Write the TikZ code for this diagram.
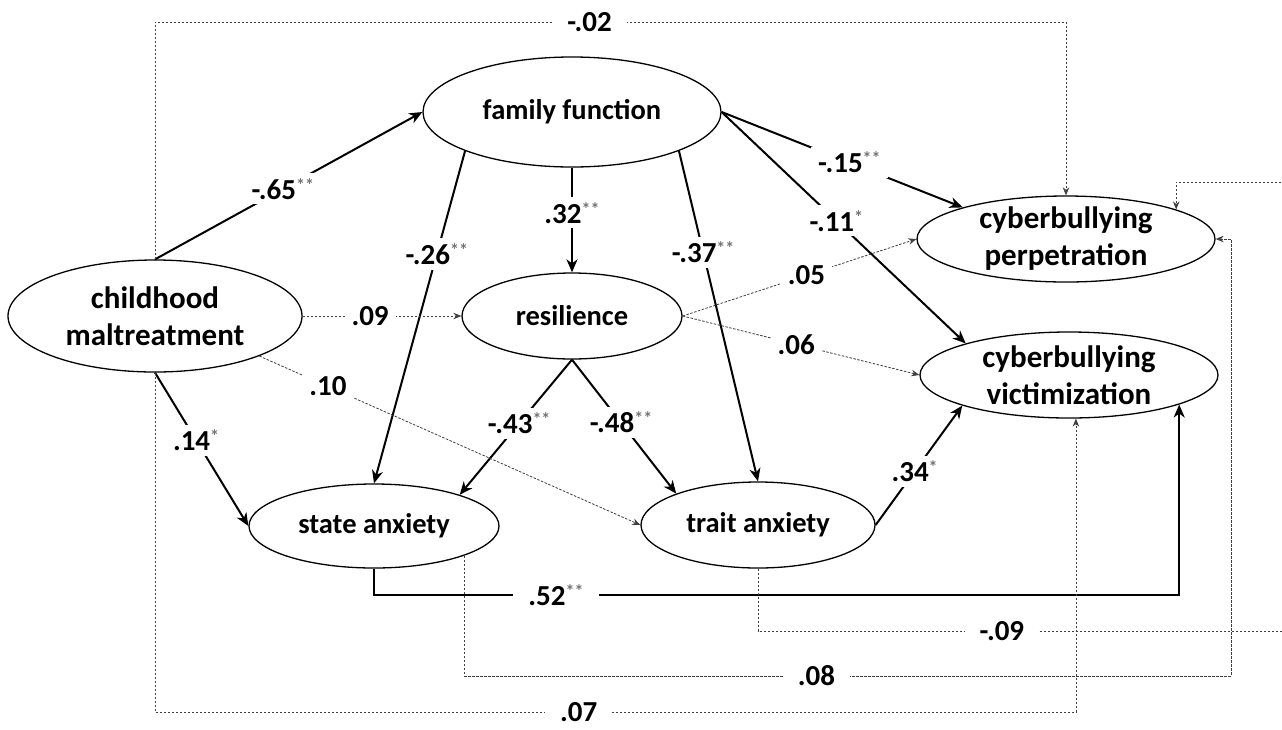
\documentclass[tikz,border=0pt]{standalone}
\usepackage{fontspec}
\setmainfont{Carlito}
\usetikzlibrary{arrows.meta,shapes.geometric,calc}
\newcommand{\sg}[1]{\raisebox{8pt}{\fontsize{18}{18}\selectfont\color{black!55}#1}}
\begin{document}
\begin{tikzpicture}[x=1pt,y=-1pt,
  ell/.style={draw, ellipse, line width=1.3pt, inner sep=0pt},
  ntext/.style={font=\fontsize{31}{37}\selectfont\bfseries, align=center, inner sep=0pt},
  stext/.style={font=\fontsize{28.5}{33}\selectfont\bfseries, inner sep=0pt},
  lbl/.style={font=\fontsize{29}{33}\selectfont\bfseries, text=black, fill=white, inner xsep=7pt, inner ysep=5pt},
  hlbl/.style={lbl, inner xsep=15pt, inner ysep=2pt},
  solidarrow/.style={line width=2pt, -{Stealth[length=13pt,width=11pt,inset=4pt]}},
  dasharrow/.style={line width=0.8pt, black!75, dash pattern=on 2.5pt off 1.5pt, -{Stealth[length=8pt,width=6.5pt]}}]
\clip (0,0) rectangle (1282,729);
\fill[white] (0,0) rectangle (1282,729);
% helper coordinates
\coordinate (y22) at (0,22);
\coordinate (y595) at (0,595);
\coordinate (y631) at (0,631);
\coordinate (y676) at (0,676);
\coordinate (y718) at (0,712);
\coordinate (y182) at (0,182);
\coordinate (x1231) at (1231,0);
\coordinate (x1300) at (1300,0);
% ellipses
\node[ell, minimum width=294pt, minimum height=112pt] (cm) at (155,316) {};
\node[ntext] (cmT) at (cm) {childhood\\maltreatment};
\node[ell, minimum width=298pt, minimum height=110pt] (ff) at (572,112) {};
\node[stext] (ffT) at (ff) {family function};
\node[ell, minimum width=220pt, minimum height=86pt] (res) at (572,316) {};
\node[stext] (resT) at (res) {resilience};
\node[ell, minimum width=250pt, minimum height=84pt] (sa) at (374,526) {};
\node[stext] (saT) at (sa) {state anxiety};
\node[ell, minimum width=234pt, minimum height=86pt] (ta) at (758,525) {};
\node[stext] (taT) at (ta) {trait anxiety};
\node[ell, minimum width=298pt, minimum height=86pt] (perp) at (1066,239) {};
\node[ntext] (perpT) at (perp) {cyberbullying\\perpetration};
\node[ell, minimum width=298pt, minimum height=86pt] (vict) at (1069,375) {};
\node[ntext] (victT) at (vict) {cyberbullying\\victimization};
% border points
\coordinate (p09) at (perp.15.9);
\coordinate (v52) at (vict.-15.7);
\coordinate (v07) at (vict.-81);
\coordinate (s08) at (sa.-18.7);
% solid paths
\draw[solidarrow] (cm.north) -- node[lbl,pos=0.478] (l65) {-.65\sg{**}} (ff.west);
\draw[solidarrow] (ff.south) -- node[lbl,pos=0.43] (l32) {.32\sg{**}} (res.north);
\draw[solidarrow] (ff.200.9) -- node[lbl,pos=0.31] (l26) {-.26\sg{**}} (sa.north);
\draw[solidarrow] (ff.-20.6) -- node[lbl,pos=0.306] (l37) {-.37\sg{**}} (ta.north);
\draw[solidarrow] (res.south) -- node[lbl,pos=0.47] (l43) {-.43\sg{**}} (sa.20.3);
\draw[solidarrow] (res.south) -- node[lbl,pos=0.47] (l48) {-.48\sg{**}} (ta.159.4);
\draw[solidarrow] (cm.south) -- node[lbl,pos=0.44] (l14) {.14\sg{*}} (sa.west);
\draw[solidarrow] (ff.east) -- node[lbl,pos=0.53] (l15) {-.15\sg{**}} (perp.163.7);
\draw[solidarrow] (ff.east) -- node[lbl,pos=0.47] (l11) {-.11\sg{*}} (vict.163.7);
\draw[solidarrow] (ta.east) -- node[lbl,pos=0.45] (l34) {.34\sg{*}} (vict.196.6);
\draw[solidarrow] (sa.south) -- (sa.south |- y595) -- node[hlbl,pos=0.226] (l52) {.52\sg{**}} (v52 |- y595) -- (v52);
% dashed paths
\draw[dasharrow] (cm.east) -- node[lbl,pos=0.425] (l09) {.09} (res.west);
\draw[dasharrow] (cm.-21.3) -- node[lbl,pos=0.18] (l10) {.10} (ta.west);
\draw[dasharrow] (res.east) -- node[lbl,pos=0.53] (l05) {.05} (perp.west);
\draw[dasharrow] (res.east) -- node[lbl,pos=0.48] (l06) {.06} (vict.west);
\draw[dasharrow] (cm.north) -- (cm.north |- y22) -- node[hlbl,pos=0.477] (l02) {-.02} (perp.north |- y22) -- (perp.north);
\draw[dasharrow] (cm.south) -- (cm.south |- y718) -- node[hlbl,pos=0.46] (l07) {.07} (v07 |- y718) -- (v07);
\draw[dasharrow] (s08) -- (s08 |- y676) -- node[hlbl,pos=0.459] (l08) {.08} (x1231 |- y676) -- (x1231 |- perp.east) -- (perp.east);
\draw[dasharrow] (ta.south) -- (ta.south |- y631) -- node[hlbl,pos=0.45] (l0m9) {-.09} (x1300 |- y631) -- (x1300 |- y182) -- (p09 |- y182) -- (p09);
\end{tikzpicture}
\end{document}
